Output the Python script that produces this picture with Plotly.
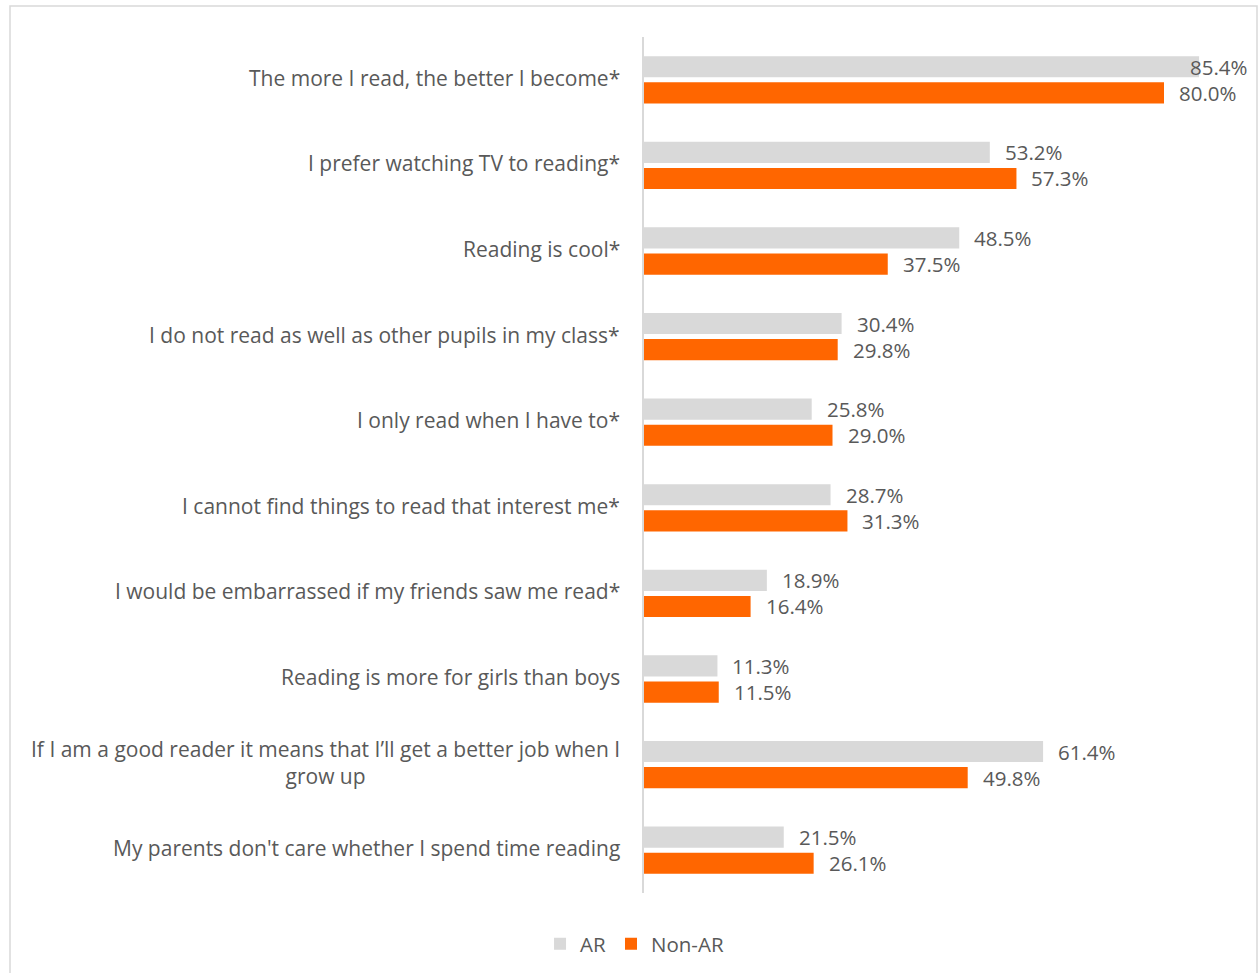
import plotly.graph_objects as go

# Survey statements and share of pupils agreeing (%)
statements = [
    "The more I read, the better I become*",
    "I prefer watching TV to reading*",
    "Reading is cool*",
    "I do not read as well as other pupils in my class*",
    "I only read when I have to*",
    "I cannot find things to read that interest me*",
    "I would be embarrassed if my friends saw me read*",
    "Reading is more for girls than boys",
    "If I am a good reader it means that I\u2019ll get a better job when I<br>grow up",
    "My parents don't care whether I spend time reading",
]
ar_values = [85.4, 53.2, 48.5, 30.4, 25.8, 28.7, 18.9, 11.3, 61.4, 21.5]
non_ar_values = [80.0, 57.3, 37.5, 29.8, 29.0, 31.3, 16.4, 11.5, 49.8, 26.1]

series_names = ["AR", "Non-AR"]
series_colors = ["#d9d9d9", "#ff6600"]

W, H = 1259, 973
ML, MR, MT, MB = 644, 9, 37, 80
XMAX = (W - ML - MR) / 6.5
FONT = "Open Sans"
TEXT = "#595959"
FS = 20.5
FS_CAT = 21

fig = go.Figure()
for name, vals, col in zip(series_names, [ar_values, non_ar_values], series_colors):
    fig.add_trace(go.Bar(
        y=statements, x=vals, name=name, orientation="h",
        marker=dict(color=col, line=dict(width=0)),
        hoverinfo="x+y",
    ))

# Value labels beside each bar (AR above, Non-AR below the category centre)
ann = []
for vals, dy in [(ar_values, 13), (non_ar_values, -13)]:
    for cat, v in zip(statements, vals):
        label = f"{v:.1f}%"
        if v > XMAX - 12:
            # not enough room after the bar: pin the label to the right edge
            ann.append(dict(x=XMAX, y=cat, xref="x", yref="y", text=label,
                            xanchor="right", yanchor="middle", yshift=dy,
                            showarrow=False,
                            font=dict(family=FONT, size=FS, color=TEXT)))
        else:
            ann.append(dict(x=v, y=cat, xref="x", yref="y", text=label,
                            xanchor="left", yanchor="middle", xshift=13, yshift=dy,
                            showarrow=False,
                            font=dict(family=FONT, size=FS, color=TEXT)))

# Category labels, centred lines for wrapped text
for cat in statements:
    ann.append(dict(x=0, y=cat, xref="paper", yref="y", text=cat,
                    xanchor="right", yanchor="middle", xshift=-22, yshift=2,
                    align="center", showarrow=False,
                    font=dict(family=FONT, size=FS_CAT, color=TEXT)))

pw = W - ML - MR
ph = H - MT - MB
# chart border
border = dict(type="rect", xref="paper", yref="paper",
              x0=(10 - ML) / pw, x1=(1257 - ML) / pw,
              y0=-(990 - (H - MB)) / ph,
              y1=1 + (MT - 6) / ph,
              line=dict(color="#d9d9d9", width=1.5), fillcolor="rgba(0,0,0,0)",
              layer="below")

fig.update_layout(
    width=W, height=H,
    margin=dict(l=ML, r=MR, t=MT, b=MB),
    paper_bgcolor="white", plot_bgcolor="white",
    barmode="group", bargap=0.39, bargroupgap=0.19,
    font=dict(family=FONT, size=FS, color=TEXT),
    xaxis=dict(range=[0, XMAX], visible=False, fixedrange=True),
    yaxis=dict(autorange="reversed", showticklabels=False, ticks="",
               showline=True, linecolor="#d9d9d9", linewidth=1.5, showgrid=False),
    legend=dict(orientation="h", xref="container", yref="container",
                x=0.504, xanchor="center", y=0.03, yanchor="middle",
                font=dict(family=FONT, size=FS, color=TEXT),
                itemwidth=30, traceorder="normal"),
    annotations=ann,
    shapes=[border],
)

fig.write_html("out.html")
